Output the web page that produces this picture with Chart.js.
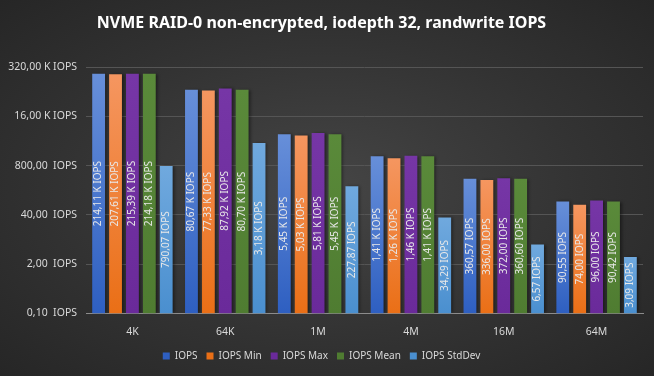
<!DOCTYPE html>
<html>
<head>
<meta charset="utf-8">
<script src="https://cdn.jsdelivr.net/npm/chart.js@4"></script>
<style>
  html, body { margin: 0; padding: 0; }
  #wrap {
    width: 654px; height: 376px;
    background: radial-gradient(ellipse at center, #454545 0%, #333333 55%, #262626 100%);
  }
</style>
</head>
<body>
<div id="wrap"><canvas id="chart" width="654" height="376"></canvas></div>
<script>
// ===== Data =====
const categories = ['4K', '64K', '1M', '4M', '16M', '64M'];
const iops       = [214110, 80670, 5450, 1410, 360.57, 90.55];
const iopsMin    = [207610, 77330, 5030, 1260, 336.00, 74.00];
const iopsMax    = [215390, 87920, 5810, 1460, 372.00, 96.00];
const iopsMean   = [214180, 80700, 5450, 1410, 360.60, 90.42];
const iopsStd    = [790.07, 3180, 227.87, 34.29, 6.57, 3.09];
const yTicks     = [0.1, 2, 40, 800, 16000, 320000];

// ===== Helpers =====
function fmt(v, pad) {
  if (v >= 1000) return (v / 1000).toFixed(2).replace('.', ',') + ' K IOPS';
  return v.toFixed(2).replace('.', ',') + (pad ? '  IOPS' : ' IOPS');
}

function barGradient(top, bottom) {
  return ctx => {
    const chart = ctx.chart;
    if (!chart.chartArea || ctx.parsed == null) return bottom;
    const y = chart.scales.y;
    const g = chart.ctx.createLinearGradient(0, y.getPixelForValue(ctx.parsed.y), 0, y.bottom);
    g.addColorStop(0, top);
    g.addColorStop(1, bottom);
    return g;
  };
}

// value labels rotated inside bars
const barLabels = {
  id: 'barLabels',
  afterDatasetsDraw(chart) {
    const c = chart.ctx;
    c.save();
    c.font = '10px "Noto Sans", sans-serif';
    c.fillStyle = '#e8e8e8';
    c.textAlign = 'center';
    c.textBaseline = 'middle';
    chart.data.datasets.forEach((ds, i) => {
      chart.getDatasetMeta(i).data.forEach((bar, j) => {
        const mid = (bar.y + bar.base) / 2;
        c.save();
        c.translate(bar.x, mid);
        c.rotate(-Math.PI / 2);
        c.fillText(fmt(ds.data[j], false), 0, 0);
        c.restore();
      });
    });
    c.restore();
  }
};

// soft shadow behind bars
const barShadow = {
  id: 'barShadow',
  beforeDatasetsDraw(chart) {
    const c = chart.ctx;
    c.save();
    c.shadowColor = 'rgba(0,0,0,0.45)';
    c.shadowOffsetX = 2;
    c.shadowOffsetY = 0;
    c.shadowBlur = 3;
  },
  afterDatasetsDraw(chart) {
    chart.ctx.restore();
  }
};

// ===== Chart =====
Chart.defaults.font.family = '"Noto Sans", sans-serif';
Chart.defaults.color = '#d9d9d9';

new Chart(document.getElementById('chart'), {
  type: 'bar',
  data: {
    labels: categories,
    datasets: [
      { label: 'IOPS',        data: iops,     backgroundColor: barGradient('#678fd9', '#2e5fc1') },
      { label: 'IOPS Min',    data: iopsMin,  backgroundColor: barGradient('#f59660', '#ea6f16') },
      { label: 'IOPS Max',    data: iopsMax,  backgroundColor: barGradient('#7636a6', '#6a2a9a') },
      { label: 'IOPS Mean',   data: iopsMean, backgroundColor: barGradient('#5a8a3a', '#4f7c31') },
      { label: 'IOPS StdDev', data: iopsStd,  backgroundColor: barGradient('#70a9de', '#4a8fcf') }
    ]
  },
  options: {
    responsive: false,
    animation: false,
    categoryPercentage: 0.91,
    barPercentage: 0.76,
    layout: { padding: { left: 0, right: 11, bottom: 5 } },
    plugins: {
      title: {
        display: true,
        text: 'NVME RAID-0 non-encrypted, iodepth 32, randwrite IOPS',
        color: '#ffffff',
        font: { size: 16, weight: 'bold' },
        padding: { top: 14, bottom: 34 }
      },
      legend: {
        position: 'bottom',
        labels: {
          boxWidth: 7, boxHeight: 7, padding: 9,
          font: { size: 10 }, color: '#d9d9d9'
        }
      },
      tooltip: { enabled: false }
    },
    scales: {
      x: {
        grid: { display: false },
        border: { color: '#8c8c8c' },
        ticks: { font: { size: 10.5 }, color: '#d9d9d9', padding: 4 }
      },
      y: {
        type: 'logarithmic',
        min: 0.1,
        max: 320000,
        afterBuildTicks: s => { s.ticks = yTicks.map(v => ({ value: v })); },
        afterFit: s => { s.width = 86; },
        grid: { color: '#555555', drawTicks: false },
        border: { display: false },
        ticks: {
          padding: 9,
          font: { size: 10.5 },
          color: '#d9d9d9',
          callback: v => fmt(v, true)
        }
      }
    }
  },
  plugins: [barShadow, barLabels]
});
</script>
</body>
</html>
